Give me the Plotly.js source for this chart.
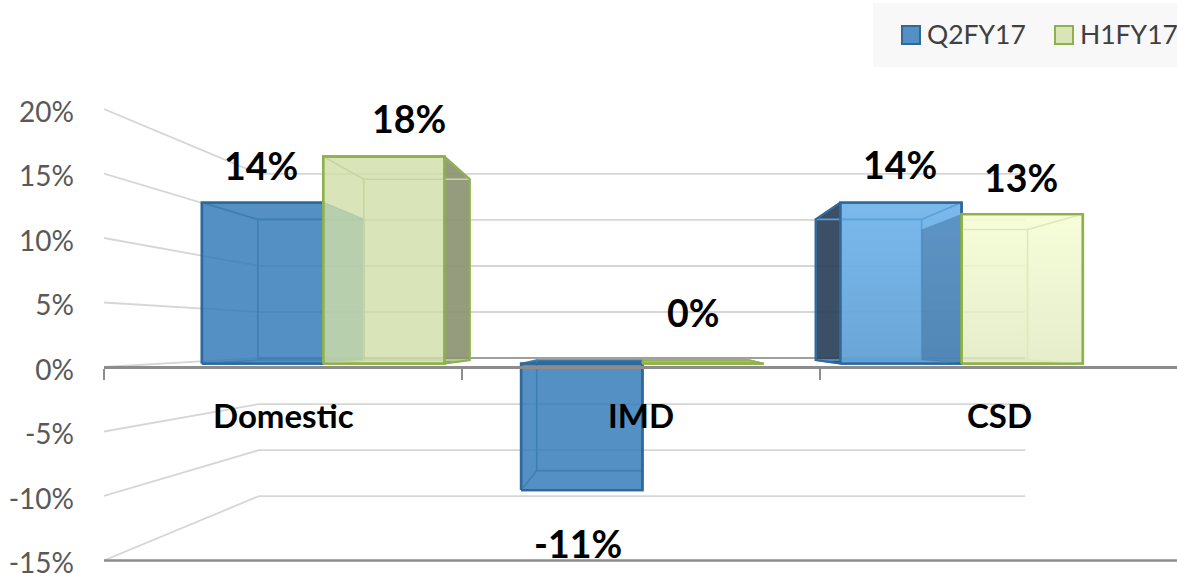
<!DOCTYPE html>
<html>
<head>
<meta charset="utf-8">
<script src="https://cdn.plot.ly/plotly-3.0.1.min.js"></script>
<style>html,body{margin:0;padding:0;background:#fff;overflow:hidden}</style>
</head>
<body>
<div id="chart" style="width:1177px;height:573px"></div>
<script>
// Growth by segment, percent
const categories = ['Domestic', 'IMD', 'CSD'];
const seriesNames = ['Q2FY17', 'H1FY17'];
const q2fy17 = [14, -11, 14];
const h1fy17 = [18, 0, 13];
const tickValues = [-15, -10, -5, 0, 5, 10, 15, 20];

// Hand placement of the value labels, in pixels, relative to the bar's front centre
const q2LabelShift = [[-2, 37], [-4, -53], [-1, 38]];
const h1LabelShift = [[25, 38], [-10, 51], [-1, 37]];

// Pseudo-3D projection: depth factors and the vanishing point in axis units
const VANISH_U = 1.511, VANISH_V = 2.43;
const WALL = 0.7135, BAR_FRONT = 0.8916, BAR_BACK = 0.779;
const HALF_CAT = 0.38, CENTER_NUDGE = 0.003;
const FONT = 'Lato, "Open Sans", sans-serif';
const pu = (u, k) => VANISH_U + (u - VANISH_U) * k;
const pv = (v, k) => VANISH_V + (v - VANISH_V) * k;

function poly(points) {
  return {x: points.map(p => pu(p[0], p[2])), y: points.map(p => pv(p[1], p[2]))};
}

const traces = [];
function addFace(points, style) {
  const g = poly(points);
  const t = Object.assign({type: 'scatter', mode: 'lines', x: g.x, y: g.y, hoverinfo: 'skip', showlegend: false}, style);
  traces.push(t);
}

// Wall and floor gridlines
const gridLine = {color: '#d6d6d6', width: 1.8};
tickValues.forEach(v => {
  addFace([[0, v, 1], [0, v, WALL], [3, v, WALL]], {line: gridLine});
});
addFace([[0, 0, WALL], [3, 0, WALL]], {line: {color: '#a0a0a0', width: 1.8}});
addFace([[0, -15, 1], [2.9972, -15, 1]], {line: {color: '#8c8c8c', width: 2.6}});

// Surface colours per segment
const BLUE = 'rgba(48,120,183,0.82)';
const GREEN = 'rgba(207,222,167,0.8)';
const q2Style = [
  {front: BLUE, right: BLUE, edge: '#2f6899', inner: '#3d7fb5'},
  {front: BLUE, top: 'rgba(42,98,148,0.95)', edge: '#2f6899', inner: '#3d7fb5'},
  {grad: [[0, 'rgba(98,160,212,0.95)'], [1, 'rgba(116,182,236,0.95)']], left: 'rgba(48,70,94,0.95)', edge: '#2f6899', inner: '#5a9fd6', outlineLeft: true}
];
const h1Style = [
  {front: GREEN, right: 'rgba(140,148,114,0.92)', edge: '#8fb04a', inner: '#c6d6a0', outlineRight: true},
  {front: GREEN, top: 'rgba(160,190,95,0.95)', edge: '#8fb04a', inner: '#a9c46c'},
  {grad: [[0, 'rgba(226,234,194,0.85)'], [1, 'rgba(245,253,210,0.85)']], left: 'rgba(25,65,110,0.3)', edge: '#8fb04a', inner: '#dfe8b8', frontClipInner: true}
];

function addBar(u0, u1, value, st) {
  const F = BAR_FRONT, B = BAR_BACK, hi = Math.max(value, 0), lo = Math.min(value, 0);
  const fillFace = (pts, color) => {
    if (color) addFace(pts.concat([pts[0]]), {line: {width: 0}, fill: 'toself', fillcolor: color});
  };
  fillFace([[u0, lo, F], [u0, hi, F], [u0, hi, B], [u0, lo, B]], st.left);
  fillFace([[u1, lo, F], [u1, hi, F], [u1, hi, B], [u1, lo, B]], st.right);
  fillFace([[u0, hi, F], [u1, hi, F], [u1, hi, B], [u0, hi, B]], st.top);
  // Front face with its outline
  const frontPts = [[u0, lo, F], [u0, hi, F], [u1, hi, F], [u1, lo, F], [u0, lo, F]];
  const front = {line: {color: st.edge, width: 2.4}, fill: 'toself'};
  if (st.grad) front.fillgradient = {type: 'vertical', colorscale: st.grad};
  else front.fillcolor = st.front;
  addFace(frontPts, front);
  // Interior edges seen through the translucent front
  const inner = {line: {color: st.inner, width: 1.6}};
  if (st.frontClipInner) {
    // Start the back edges where the front face begins, leaving the neighbour bar clean
    const uStart = VANISH_U + (u0 - VANISH_U) * F / B;
    addFace([[uStart, lo, B], [u1, lo, B], [u1, lo, F]], inner);
    addFace([[uStart, hi, B], [u1, hi, B], [u1, hi, F]], inner);
  } else {
    addFace([[u0, lo, F], [u0, lo, B], [u0, hi, B], [u0, hi, F]], inner);
    addFace([[u1, lo, F], [u1, lo, B], [u0, lo, B]], inner);
    addFace([[u0, hi, B], [u1, hi, B], [u1, hi, F]], inner);
  }
  addFace([[u1, lo, B], [u1, hi, B]], inner);
  // Re-stroke the front so it stays on top of the interior edges
  addFace(frontPts, {line: front.line});
  // Outer silhouette on the visible sides
  if (value === 0) addFace([[u0, hi, F], [u0, hi, B], [u1, hi, B], [u1, hi, F]], {line: {color: st.edge, width: 1.4}});
  if (st.outlineRight) addFace([[u1, hi, F], [u1, hi, B], [u1, lo, B], [u1, lo, F]], {line: {color: st.edge, width: 2}});
  if (st.outlineLeft) addFace([[u0, hi, F], [u0, hi, B], [u0, lo, B], [u0, lo, F]], {line: {color: st.edge, width: 2}});
}

const annotations = [];
function valueLabel(u, v, shift) {
  annotations.push({
    x: pu(u, BAR_FRONT), y: pv(v, BAR_FRONT), xref: 'x', yref: 'y',
    text: v + '%', showarrow: false, xanchor: 'center', yanchor: 'middle',
    xshift: shift[0], yshift: shift[1],
    font: {family: FONT, size: 37.5, color: '#000', weight: 700}
  });
}

categories.forEach((name, i) => {
  const c = i + 0.5 + CENTER_NUDGE;
  addBar(c - HALF_CAT, c, q2fy17[i], q2Style[i]);
  addBar(c, c + HALF_CAT, h1fy17[i], h1Style[i]);
  valueLabel(c - HALF_CAT / 2, q2fy17[i], q2LabelShift[i]);
  valueLabel(c + HALF_CAT / 2, h1fy17[i], h1LabelShift[i]);
  annotations.push({
    x: c, y: 0, xref: 'x', yref: 'y', yanchor: 'middle', xanchor: 'center', showarrow: false,
    yshift: -48, xshift: -1, text: name, font: {family: FONT, size: 33, color: '#000', weight: 700}
  });
});

// Legend block, pinned to the top-right corner of the page
const W = 1177, H = 573, LEFT = 104;
const paperX = px => (px - LEFT) / (W - LEFT);
const paperY = py => 1 - py / H;
const legendShape = (x0, y0, x1, y1, fill, edge) => ({
  type: 'rect', xref: 'paper', yref: 'paper',
  x0: paperX(x0), x1: paperX(x1), y0: paperY(y1), y1: paperY(y0),
  fillcolor: fill, line: {color: edge, width: edge === 'rgba(0,0,0,0)' ? 0 : 2}
});
const shapes = [
  legendShape(873, 3, 1177, 67, '#f8f8f8', 'rgba(0,0,0,0)'),
  legendShape(902, 26, 920, 44, '#5590c4', '#2f6899'),
  legendShape(1055, 26, 1073, 44, '#d9e5b9', '#8fb04a')
];
[[seriesNames[0], 926], [seriesNames[1], 1079]].forEach(e => {
  annotations.push({
    x: paperX(e[1]), y: paperY(34), xref: 'paper', yref: 'paper', xanchor: 'left', yanchor: 'middle',
    showarrow: false, borderpad: 0, text: e[0], font: {family: FONT, size: 26.5, color: '#404040'}
  });
});

const layout = {
  width: W, height: H,
  margin: {l: LEFT, r: 0, t: 0, b: 0, pad: 0},
  paper_bgcolor: '#fff', plot_bgcolor: 'rgba(0,0,0,0)',
  showlegend: false,
  xaxis: {
    range: [0, (W - LEFT) / 358], anchor: 'free', position: (H - 367) / H,
    showgrid: false, zeroline: false, showline: true, linecolor: '#8c8c8c', linewidth: 2.6,
    tickvals: [0, 1, 2], ticks: 'outside', ticklen: 11, tickwidth: 2, tickcolor: '#8c8c8c',
    showticklabels: false, fixedrange: true
  },
  yaxis: {
    range: [(367 - H) / 12.9, 367 / 12.9],
    tickvals: tickValues, ticktext: tickValues.map(v => v + '%'),
    showgrid: false, zeroline: false, showline: false, ticks: '',
    ticklabelstandoff: 29, ticklabelshift: 3, ticklabeloverflow: 'allow',
    tickfont: {family: FONT, size: 28, color: '#595959'},
    fixedrange: true
  },
  shapes: shapes,
  annotations: annotations
};

Plotly.newPlot('chart', traces, layout, {displayModeBar: false, staticPlot: true});
</script>
</body>
</html>
